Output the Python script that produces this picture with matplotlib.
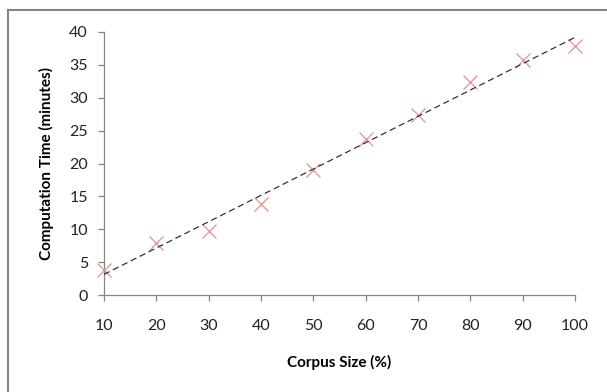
import matplotlib
matplotlib.use('Agg')
import matplotlib.pyplot as plt
import numpy as np
from matplotlib.lines import Line2D

# corpus size (%) vs computation time (minutes)
corpus_size = [10, 20, 30, 40, 50, 60, 70, 80, 90, 100]
comp_time = [3.8, 7.9, 9.8, 13.8, 19.0, 23.8, 27.4, 32.4, 35.8, 37.9]
x_ticks = [10, 20, 30, 40, 50, 60, 70, 80, 90, 100]
y_ticks = [0, 5, 10, 15, 20, 25, 30, 35, 40]

plt.rcParams['font.family'] = ['Lato', 'DejaVu Sans']

fig = plt.figure(figsize=(6.07, 3.92), dpi=100)
ax = fig.add_axes([0.1713, 0.2474, 0.776, 0.6710])

# outer chart border: only left and top edges are inside the image
bx = 7.5 / 607
by = 1 - 9.5 / 392
fig.lines.append(Line2D([bx, bx], [0, by], transform=fig.transFigure,
                        color='#868686', linewidth=1.5))
fig.lines.append(Line2D([bx, 1], [by, by], transform=fig.transFigure,
                        color='#868686', linewidth=1.5))

ax.plot(corpus_size, comp_time, linestyle='none', marker='x', markersize=10,
        markeredgewidth=0.9, color='#E39090', clip_on=False, zorder=3)

# linear trend line
coef = np.polyfit(corpus_size, comp_time, 1)
xs = np.array([corpus_size[0], corpus_size[-1]])
ax.plot(xs, np.polyval(coef, xs), linestyle=(0, (5, 3)), color='#333333',
        linewidth=0.9, clip_on=False, zorder=4)

ax.set_xlim(10, 100)
ax.set_ylim(0, 40)
ax.set_xticks(x_ticks)
ax.set_yticks(y_ticks)

for side in ['top', 'right']:
    ax.spines[side].set_visible(False)
for side in ['left', 'bottom']:
    ax.spines[side].set_color('#868686')
    ax.spines[side].set_linewidth(0.9)

ax.tick_params(axis='y', direction='out', length=4.5, width=0.9, color='#868686',
               labelsize=11.5, pad=7, labelcolor='#222222')
ax.tick_params(axis='x', direction='out', length=4, width=0.9, color='#868686',
               labelsize=11.5, pad=13, labelcolor='#222222')

ax.set_xlabel('Corpus Size (%)', fontsize=11, fontweight='bold', labelpad=16)
ax.set_ylabel('Computation Time (minutes)', fontsize=11, fontweight='bold', labelpad=11)

fig.savefig('out.png', dpi=100)
